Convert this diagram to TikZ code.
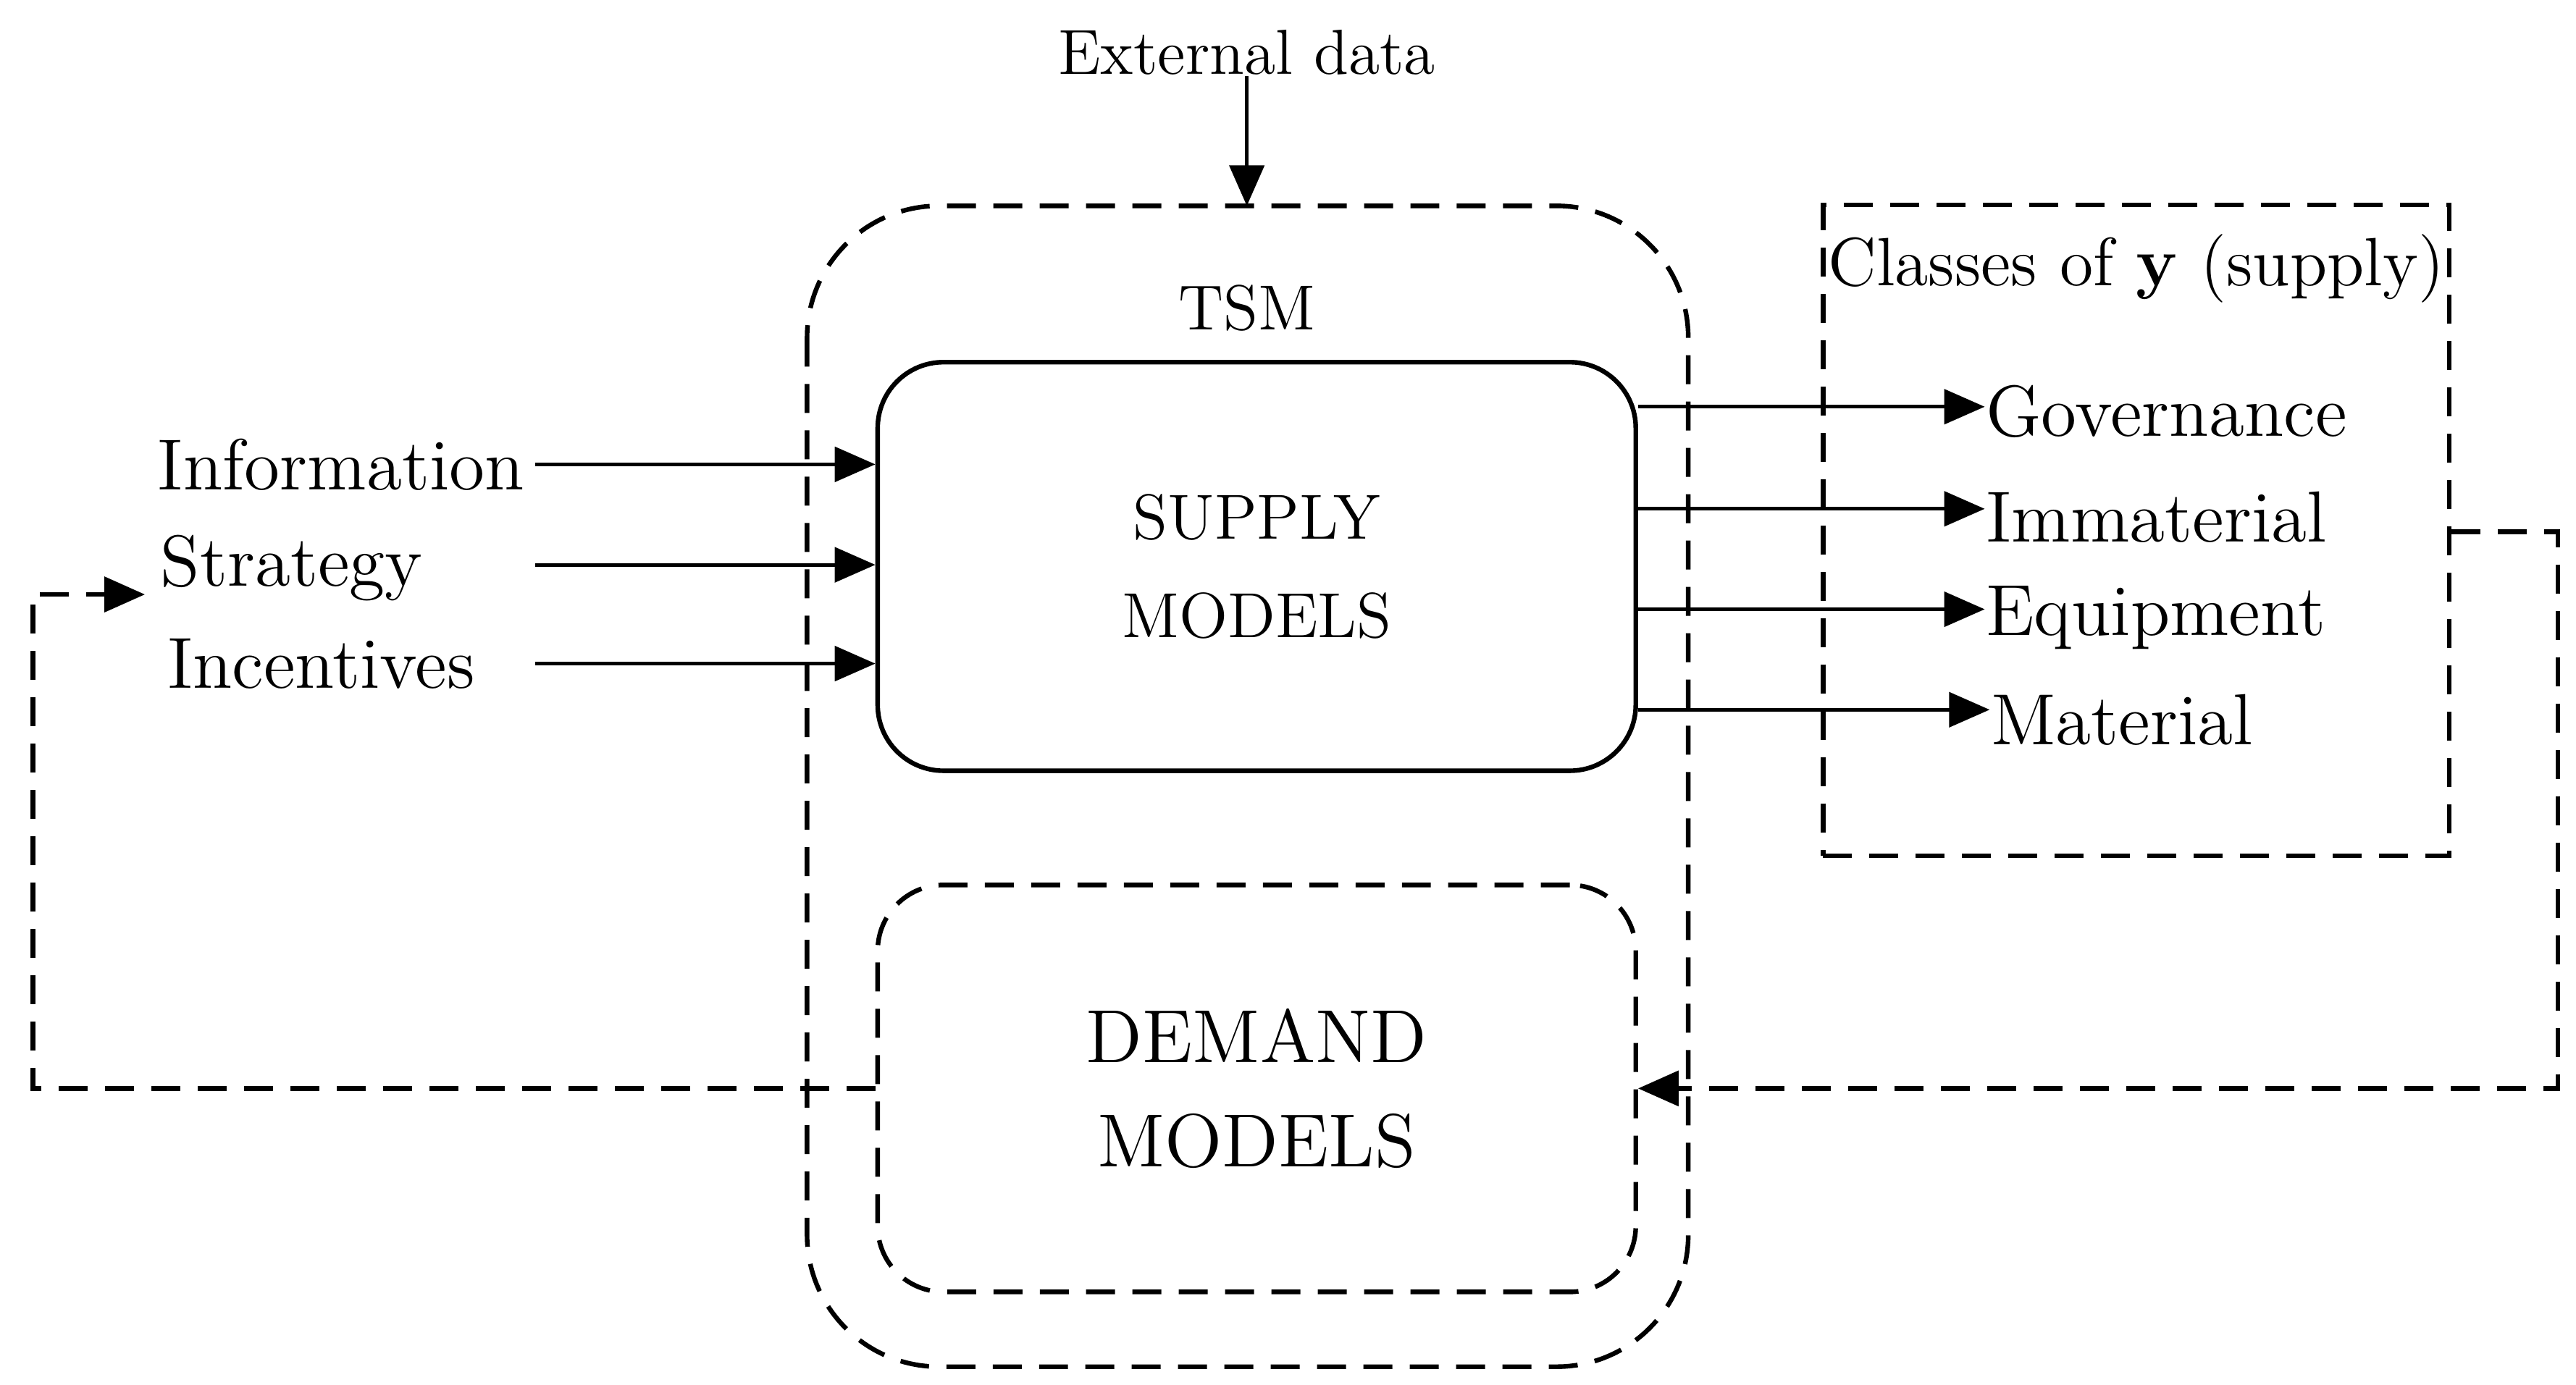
\documentclass[tikz,border=0pt]{standalone}
\usepackage{tikz}
\usetikzlibrary{arrows.meta}
\tikzset{
  lbl/.style={font=\fontsize{12.5}{15}\selectfont, inner sep=0pt},
  flow/.style={-{Triangle[length=7pt,width=6pt]},semithick},
  fdash/.style={-{Triangle[length=7pt,width=6pt]},thick,dash pattern=on 5pt off 3pt},
}
\begin{document}
\begin{tikzpicture}[x=0.01cm, y=-0.01cm]
      \useasboundingbox (0,0) rectangle (1564,841);

      \draw [thick,dash pattern=on 5pt off 3pt,rounded corners=0.8cm] (490,125) rectangle (1025,830);
      \node [lbl,font=\fontsize{11}{14}\selectfont] (tsm) at (757,187) {TSM};
      \node [lbl,font=\fontsize{11}{14}\selectfont] (ext) at (757,32) {External data};
      \coordinate (tsmtop) at (757,125);
      \draw [flow] (ext) to (tsmtop);

      \node [draw,thick,rounded corners=0.4cm,
             minimum width=4.6cm,minimum height=2.48cm,align=center,
             font=\fontsize{11}{17}\selectfont] (sup) at (763,344) {SUPPLY\\MODELS};
      \node [draw,thick,dash pattern=on 5pt off 3pt,rounded corners=0.4cm,
             minimum width=4.6cm,minimum height=2.47cm,align=center,
             font=\fontsize{13}{18}\selectfont] (dem) at (763,661) {DEMAND\\MODELS};

      \node [draw,thick,dash pattern=on 5pt off 3pt,minimum width=3.8cm,minimum height=3.95cm] (cls) at (1297,322) {};
      \node [lbl,font=\fontsize{11.8}{15}\selectfont] (clst) at (1297,163) {Classes of $\mathbf{y}$ (supply)};

      \node [lbl,anchor=west] (gov) at (1205,250) {Governance};
      \node [lbl,anchor=west] (imm) at (1205,314) {Immaterial};
      \node [lbl,anchor=west] (equ) at (1205,375) {Equipment};
      \node [lbl,anchor=west] (mat) at (1208,437) {Material};
      \draw [flow] (sup.east |- 0,247) to (gov.west |- 0,247);
      \draw [flow] (sup.east |- 0,309) to (imm.west |- 0,309);
      \draw [flow] (sup.east |- 0,370) to (equ.west |- 0,370);
      \draw [flow] (sup.east |- 0,431) to (mat.west |- 0,431);

      \node [lbl] (inf) at (207,282) {Information};
      \node [lbl] (str) at (177,345) {Strategy};
      \node [lbl] (inc) at (195,403) {Incentives};
      \draw [flow] (325,282) to (sup.west |- 0,282);
      \draw [flow] (325,343) to (sup.west |- 0,343);
      \draw [flow] (325,403) to (sup.west |- 0,403);

      \coordinate (back) at (88,361);
      \draw [fdash] (cls.east |- 0,323) -- (1553,323) -- (1553,661) -- (dem.east);
      \draw [fdash] (dem.west) -- (20,661) -- (20,361) -- (back);
\end{tikzpicture}
\end{document}
